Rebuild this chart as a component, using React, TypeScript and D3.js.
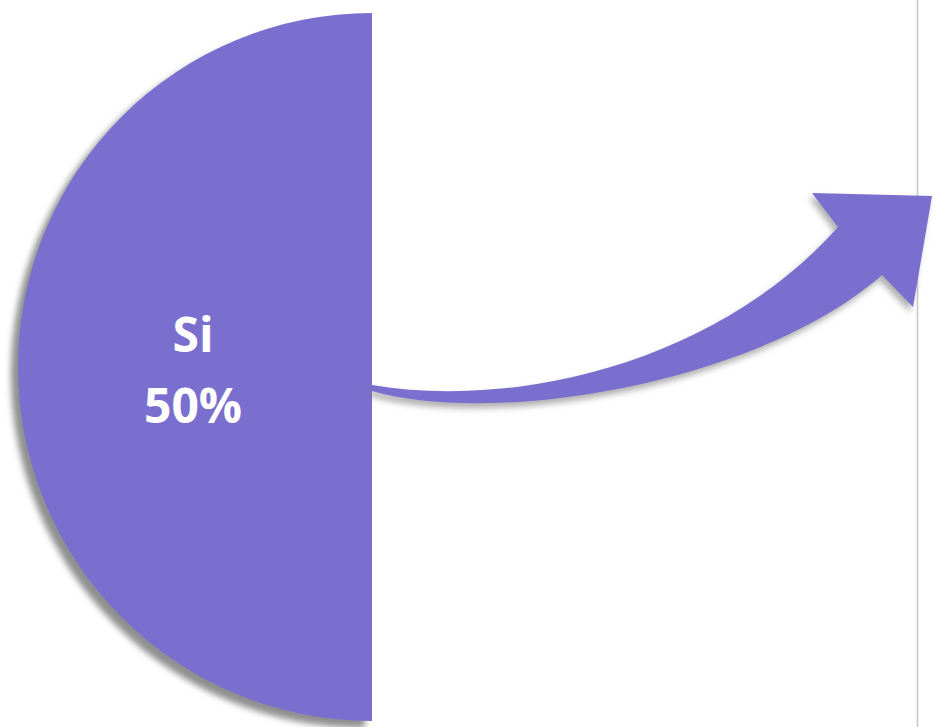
import React from "react";
import * as d3 from "d3";

const categories = ["Si", "No"];
const values = [50, 50];
const labels = ["50%", "50%"];

const W = 935;
const H = 727;
const COLOR = "#7a6ecf";

export default function App() {
  const cx = 372;
  const cy = 367;
  const r = 354;

  const pie = d3
    .pie<number>()
    .sort(null)
    .startAngle(Math.PI)
    .endAngle(3 * Math.PI);
  const arcs = pie(values);
  const arc = d3.arc<d3.PieArcDatum<number>>().innerRadius(0).outerRadius(r);

  // curved arrow built with d3.path
  const p = d3.path();
  p.moveTo(372, 385);
  p.bezierCurveTo(520, 410, 720, 360, 838, 227);
  p.lineTo(812, 193);
  p.lineTo(932, 196);
  p.lineTo(913, 307);
  p.lineTo(882, 275);
  p.bezierCurveTo(760, 382, 500, 427, 372, 391);
  p.closePath();

  const first = arcs[0];

  return (
    <svg
      width={W}
      height={H}
      style={{ position: "absolute", left: 0, top: 0, background: "#fff" }}
    >
      <defs>
        <filter id="sh" x="-20%" y="-20%" width="140%" height="140%">
          <feDropShadow dx={-7} dy={7} stdDeviation={3.2} floodColor="#7a7a7a" floodOpacity={0.85} />
        </filter>
        <filter id="sh2" x="-20%" y="-20%" width="140%" height="140%">
          <feDropShadow dx={-3} dy={5} stdDeviation={3} floodColor="#7a7a7a" floodOpacity={0.6} />
        </filter>
      </defs>
      <line x1={917.5} x2={917.5} y1={0} y2={H} stroke="#c8c8c8" strokeWidth={1.5} />
      <g transform={`translate(${cx},${cy})`}>
        <path d={arc(first) || ""} fill={COLOR} filter="url(#sh)" />
        <text
          x={193 - cx}
          y={352 - cy}
          textAnchor="middle"
          fill="#fff"
          fontFamily="'Open Sans', sans-serif"
          fontWeight={700}
          fontSize={48}
        >
          {categories[0]}
        </text>
        <text
          x={193 - cx}
          y={423 - cy}
          textAnchor="middle"
          fill="#fff"
          fontFamily="'Open Sans', sans-serif"
          fontWeight={700}
          fontSize={48}
        >
          {labels[0]}
        </text>
      </g>
      <path d={p.toString()} fill={COLOR} filter="url(#sh2)" />
    </svg>
  );
}
